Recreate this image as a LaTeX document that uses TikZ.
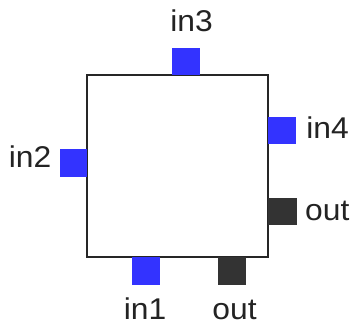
\documentclass[tikz,border=0pt]{standalone}
\usepackage{fontspec}
\setmainfont{Liberation Sans}
\begin{document}
\begin{tikzpicture}[x=1pt,y=-1pt,
  blockbox/.style={draw=black!85,line width=2pt,fill=white},
  inport/.style={fill={rgb,255:red,51;green,51;blue,255},draw=none},
  outport/.style={fill={rgb,255:red,51;green,51;blue,51},draw=none},
  portlabel/.style={inner sep=0pt,xscale=1.06,font=\fontsize{30}{33}\selectfont,text={rgb,255:red,35;green,35;blue,35}}]
  \useasboundingbox (0,0) rectangle (352,326);
  \fill[white] (0,0) rectangle (352,326);
  % main block
  \draw[blockbox] (87,75) rectangle (268,257);
  \coordinate (blk) at (177.5,166);
  % ports
  \fill[inport]  (172,48) rectangle (200,75);
  \node[inner sep=0pt] (p3) at (186,61.5) {};
  \fill[inport]  (60,149) rectangle (87,177);
  \node[inner sep=0pt] (p2) at (73.5,163) {};
  \fill[inport]  (268,117) rectangle (296,144);
  \node[inner sep=0pt] (p4) at (282,130.5) {};
  \fill[outport] (268,198) rectangle (297,225);
  \node[inner sep=0pt] (po1) at (282.5,211.5) {};
  \fill[inport]  (132,257) rectangle (160,285);
  \node[inner sep=0pt] (p1) at (146,271) {};
  \fill[outport] (218,257) rectangle (246,285);
  \node[inner sep=0pt] (po2) at (232,271) {};
  % labels
  \node[portlabel,anchor=base] (l3) at (191.5,32) {in3};
  \node[portlabel,anchor=base] (l2) at (30,167) {in2};
  \node[portlabel,anchor=base] (l4) at (327.5,138) {in4};
  \node[portlabel,anchor=base west] (lo1) at (305,220) {out};
  \node[portlabel,anchor=base] (l1) at (145,319) {in1};
  \node[portlabel,anchor=base] (lo2) at (234.5,319) {out};
\end{tikzpicture}
\end{document}
